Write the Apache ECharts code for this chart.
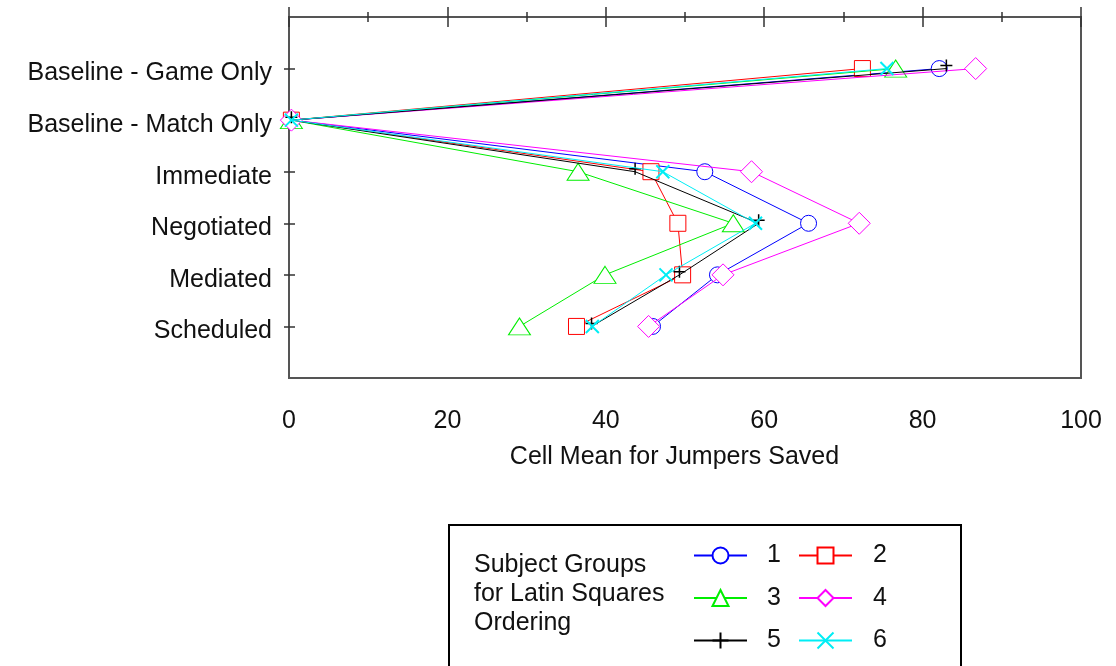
<!DOCTYPE html>
<html>
<head>
<meta charset="utf-8">
<script src="https://cdn.jsdelivr.net/npm/echarts@6/dist/echarts.min.js"></script>
<style>
html,body{margin:0;padding:0;background:#fff;}
#c{width:1116px;height:666px;}
</style>
</head>
<body>
<div id="c"></div>
<script>
var categories = ['Baseline - Game Only', 'Baseline - Match Only', 'Immediate', 'Negotiated', 'Mediated', 'Scheduled'];
var xTicks = [0, 20, 40, 60, 80, 100];
var group1 = [82.1, 0.3, 52.5, 65.6, 54.1, 45.9];
var group2 = [72.4, 0.3, 45.7, 49.1, 49.7, 36.3];
var group3 = [76.6, 0.3, 36.5, 56.1, 39.9, 29.1];
var group4 = [86.7, 0.3, 58.4, 72.0, 54.8, 45.4];
var group5 = [83.0, 0.3, 43.7, 59.3, 49.3, 38.2];
var group6 = [75.5, 0.3, 47.2, 58.9, 47.6, 38.3];
var groupNames = ['1', '2', '3', '4', '5', '6'];
var legendTitle = 'Subject Groups\nfor Latin Squares\nOrdering';
var xName = 'Cell Mean for Jumpers Saved';

var FONT = 'Liberation Sans';
var catPos = categories.map(function (c, i) { return i + 1; });

function pts(vals) { return vals.map(function (v, i) { return [v, i + 1]; }); }

var styles = [
  { color: '#0000ff', symbol: 'circle', size: 16, fill: '#fff', bw: 1 },
  { color: '#ff0000', symbol: 'rect', size: 16, fill: '#fff', bw: 1 },
  { color: '#00ee00', symbol: 'triangle', size: [22, 17], fill: '#fff', bw: 1 },
  { color: '#ff00ff', symbol: 'diamond', size: 22, fill: '#fff', bw: 1 },
  { color: '#000000', symbol: 'path://M0,6H12M6,0V12', size: 12, fill: 'none', bw: 1.5, offset: [0, -3] },
  { color: '#00eef5', symbol: 'path://M0,0L12,12M12,0L0,12', size: 13, fill: 'none', bw: 2 }
];
var allData = [group1, group2, group3, group4, group5, group6];

var series = allData.map(function (vals, k) {
  var s = styles[k];
  return {
    name: groupNames[k],
    type: 'line',
    data: pts(vals),
    symbol: s.symbol,
    symbolSize: s.size,
    symbolOffset: s.offset || [0, 0],
    showAllSymbol: true,
    clip: true,
    lineStyle: { color: s.color, width: 1 },
    itemStyle: { color: s.fill, borderColor: s.color, borderWidth: s.bw },
    emphasis: { disabled: true },
    z: 2 + k
  };
});

var tickColor = '#333';
var axisLineStyle = { color: '#555', width: 2 };

var option = {
  animation: false,
  backgroundColor: '#fff',
  grid: {
    left: 289, right: 35, top: 17, bottom: 288,
    show: true, borderColor: '#555', borderWidth: 2, backgroundColor: 'transparent'
  },
  xAxis: [
    {
      type: 'value', position: 'bottom', min: 0, max: 100, interval: 20,
      axisLine: { show: true, lineStyle: axisLineStyle },
      axisTick: { show: true, inside: false, length: 10, lineStyle: { color: tickColor, width: 1.5 } },
      minorTick: { show: true, splitNumber: 2, length: 5, lineStyle: { color: tickColor, width: 1.5 } },
      splitLine: { show: false },
      axisLabel: {
        show: true, margin: 31, fontFamily: FONT, fontSize: 25, color: '#111',
        customValues: xTicks
      },
      name: xName, nameLocation: 'middle', nameGap: 67,
      nameTextStyle: { fontFamily: FONT, fontSize: 25, color: '#111', padding: [0, 21, 0, 0] }
    },
    {
      type: 'value', position: 'top', min: 0, max: 100, interval: 20,
      axisLine: { show: true, lineStyle: axisLineStyle },
      axisTick: { show: true, inside: false, length: 10, lineStyle: { color: tickColor, width: 1.5 } },
      minorTick: { show: true, splitNumber: 2, length: 5, lineStyle: { color: tickColor, width: 1.5 } },
      splitLine: { show: false },
      axisLabel: { show: false }
    }
  ],
  yAxis: [
    {
      type: 'value', position: 'left', min: 0, max: 7, interval: 1, inverse: true, offset: 2,
      axisLine: { show: false },
      axisTick: { show: true, length: 5, customValues: catPos, lineStyle: { color: tickColor, width: 1.5 } },
      splitLine: { show: false },
      axisLabel: {
        show: true, margin: 15, customValues: catPos, fontFamily: FONT, fontSize: 25, color: '#111',
        verticalAlign: 'top', lineHeight: 10,
        formatter: function (v) { return categories[Math.round(v) - 1] || ''; }
      }
    },
    {
      type: 'value', position: 'right', min: 0, max: 7, interval: 1, inverse: true, offset: 2,
      axisLine: { show: false },
      axisTick: { show: true, length: 6, customValues: catPos, lineStyle: { color: tickColor, width: 1.5 } },
      splitLine: { show: false },
      axisLabel: { show: false }
    }
  ],
  legend: [
    {
      data: ['1', '3', '5'], orient: 'vertical', left: 693, top: 543, padding: 0,
      itemWidth: 53, itemHeight: 20, itemGap: 17.5,
      textStyle: { fontFamily: FONT, fontSize: 25, color: '#111', padding: [0, 0, 0, 15] },
      selectedMode: false, z: 10
    },
    {
      data: ['2', '4', '6'], orient: 'vertical', left: 798, top: 543, padding: 0,
      itemWidth: 53, itemHeight: 20, itemGap: 17.5,
      textStyle: { fontFamily: FONT, fontSize: 25, color: '#111', padding: [0, 0, 0, 16] },
      selectedMode: false, z: 10
    }
  ],
  graphic: [
    {
      type: 'rect', left: 448, top: 524, z: 5,
      shape: { x: 0, y: 0, width: 512, height: 170 },
      style: { fill: '#fff', stroke: '#000', lineWidth: 2 }
    },
    {
      type: 'text', left: 474, top: 551, z: 6,
      style: { text: legendTitle, font: '25px "' + FONT + '"', fill: '#111', lineHeight: 29 }
    }
  ],
  series: series
};

var chart = echarts.init(document.getElementById('c'), null, { renderer: 'canvas' });
chart.setOption(option);
</script>
</body>
</html>
